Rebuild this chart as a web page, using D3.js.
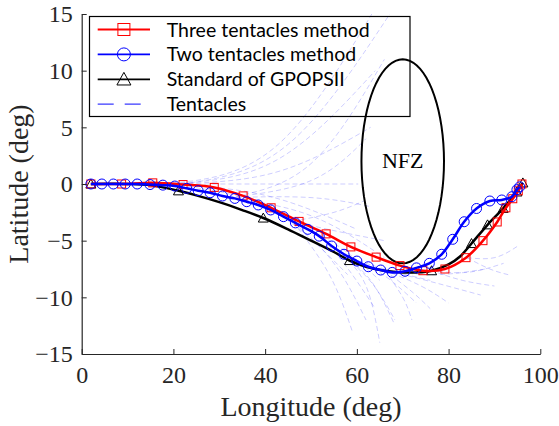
<!DOCTYPE html>
<html>
<head>
<meta charset="utf-8">
<script src="https://cdn.jsdelivr.net/npm/d3@7"></script>
<style>
	body { margin: 0; background: #fff; }
	svg { display: block; }
</style>
</head>
<body>
<div id="chart"></div>
<script>
/* global d3 */

// Trajektorien [Longitude, Latitude] in deg
var threeTentacles = [
	[2, 0], [8.7, 0], [15.5, 0.1], [22.1, -0.05], [28.9, -0.3], [35.2, -1.05], [41.3, -2.1],
	[47.4, -3.3], [53.3, -4.4], [58.7, -5.55], [64.2, -6.45], [69.4, -7.2], [74.4, -7.65],
	[79.2, -7.5], [83.8, -6.5], [87.5, -5.0], [90.6, -3.35], [92.5, -2.1], [94.0, -1.3],
	[95.2, -0.6], [96, 0]
];
var twoTentacles = [
	[2, 0], [4.4, 0], [6.9, 0], [9.5, 0], [12.1, 0], [14.9, -0.05], [17.7, -0.1], [20.3, -0.18],
	[22.9, -0.38], [25.4, -0.59], [28.0, -0.77], [30.7, -1.06], [33.4, -1.27], [36.0, -1.56],
	[38.5, -1.85], [41.2, -2.29], [44.0, -2.88], [46.6, -3.43], [49.3, -4.0], [51.8, -4.6],
	[54.5, -5.47], [57.2, -6.2], [60.0, -6.8], [62.5, -7.3], [65.2, -7.59], [67.7, -7.8],
	[70.5, -7.7], [73.0, -7.4], [75.8, -7.0], [78.5, -6.2], [80.9, -4.88], [83.4, -3.33],
	[86.1, -2.16], [89.0, -1.5], [91.6, -1.41], [93.8, -1.12], [94.9, -0.5], [95.5, -0.25]
];
var gpopsPath = [
	[2, 0], [10, 0], [15, -0.1], [21.1, -0.6], [25, -1.0], [30, -1.6], [35, -2.3], [39.6, -3.0],
	[45, -4.0], [50, -5.0], [55, -6.0], [58.4, -6.75], [62, -7.3], [66, -7.65], [70, -7.8],
	[73, -7.8], [76.3, -7.65], [80, -7.1], [82.5, -6.4], [85, -5.25], [88.5, -3.6],
	[91.9, -2.15], [94.9, -0.7], [96.2, 0.1]
];
var gpopsNodes = [
	[2, 0], [21.1, -0.6], [39.6, -3.0], [58.4, -6.75], [76.3, -7.65], [85, -5.25],
	[88.5, -3.6], [91.9, -2.15], [94.9, -0.7], [96.2, 0.1]
];

// Tentakel: Start, Mitte, Ende
var tentacles = [
	[[18, 0], [42, 3.2], [64, 15.5]],
	[[22, 0], [45, 3.5], [68, 15.5]],
	[[18, 0], [42, 2], [64, 10]],
	[[18, 0], [42, 1], [63, 5]],
	[[18, 0], [40, 0], [60.3, 0]],
	[[18, 0], [40, -1], [60, -4]],
	[[18, 0], [40, -2], [58, -8]],
	[[32, -1.2], [50, 1.8], [66, 11]],
	[[32, -1.2], [50, 0.3], [62, 4]],
	[[32, -1.2], [50, -1.2], [63, -2]],
	[[32, -1.2], [50, -2.8], [66, -6.5]],
	[[32, -1.2], [50, -4], [64, -11]],
	[[46, -3.3], [55, -2.5], [61.5, -1.5]],
	[[46, -3.3], [56, -4.2], [66, -5]],
	[[46, -3.3], [56, -5.5], [65, -8.5]],
	[[46, -3.3], [55, -7], [62, -12]],
	[[46, -3.3], [54, -8], [59, -13]],
	[[57, -6.3], [63, -8.5], [68, -12.2]],
	[[57.4, -6.5], [63.2, -8.7], [68.3, -12]],
	[[57, -6.3], [62, -9], [65, -14]],
	[[57, -6.3], [65, -7.8], [73, -10.5]],
	[[57, -6.3], [66, -7.5], [76, -8.5]],
	[[66, -7.6], [76, -8.6], [87, -9.8]],
	[[66, -7.6], [74, -9], [80, -10.5]],
	[[66, -7.6], [72, -9.5], [76, -11]],
	[[66, -7.6], [77, -8], [88, -7.5]],
	[[66, -7.6], [70, -10], [72, -12]],
	[[76, -7.6], [84, -7.8], [92, -7]],
	[[76, -7.6], [83, -8.5], [90, -9]],
	[[84, -6.5], [90, -6.5], [95, -5.5]],
	[[84, -6.5], [89, -7.5], [93, -8]]
];

// Flugverbotszone
var nfzCenter = [70, 2];
var nfzRadius = 9;

var xTicks = [0, 20, 40, 60, 80, 100];
var yTicks = [-15, -10, -5, 0, 5, 10, 15];
var legendLabels = ['Three tentacles method', 'Two tentacles method', 'Standard of GPOPSII', 'Tentacles'];

var width = 559;
var height = 426;
var axisColor = '#262626';

var x = d3.scaleLinear().domain([0, 100]).range([81.7, 540.3]);
var y = d3.scaleLinear().domain([-15, 15]).range([354, 14]);

var svg = d3.select('#chart').append('svg')
	.attr('width', width).attr('height', height);

svg.append('defs').append('clipPath').attr('id', 'plotclip')
	.append('rect')
	.attr('x', x(0)).attr('y', y(15))
	.attr('width', x(100) - x(0)).attr('height', y(-15) - y(15));

var plot = svg.append('g').attr('clip-path', 'url(#plotclip)');

var line = d3.line()
	.x(function (d) { return x(d[0]); })
	.y(function (d) { return y(d[1]); });
var smooth = d3.line()
	.x(function (d) { return x(d[0]); })
	.y(function (d) { return y(d[1]); })
	.curve(d3.curveCatmullRom.alpha(0.5));
var tentacleLine = d3.line()
	.x(function (d) { return x(d[0]); })
	.y(function (d) { return y(d[1]); })
	.curve(d3.curveNatural);

// Tentakel
plot.append('g').selectAll('path').data(tentacles).enter().append('path')
	.attr('d', tentacleLine)
	.attr('fill', 'none')
	.attr('stroke', '#0000ff')
	.attr('stroke-opacity', 0.22)
	.attr('stroke-width', 0.9)
	.attr('stroke-dasharray', '5,3');

// NFZ
var nfzPts = d3.range(0, 361, 5).map(function (a) {
	var r = a * Math.PI / 180;
	return [nfzCenter[0] + nfzRadius * Math.cos(r), nfzCenter[1] + nfzRadius * Math.sin(r)];
});
plot.append('path')
	.attr('d', line(nfzPts))
	.attr('fill', 'none')
	.attr('stroke', '#000')
	.attr('stroke-width', 2);
svg.append('text')
	.attr('x', x(nfzCenter[0])).attr('y', y(nfzCenter[1]) + 7)
	.attr('text-anchor', 'middle')
	.attr('font-family', 'Liberation Serif, Times New Roman, serif')
	.attr('font-size', 22)
	.attr('fill', '#000')
	.text('NFZ');

// Trajektorien
var series = [
	{data: gpopsPath, nodes: gpopsNodes, color: '#000000', marker: 'triangle'},
	{data: threeTentacles, nodes: threeTentacles, color: '#ff0000', marker: 'square'},
	{data: twoTentacles, nodes: twoTentacles, color: '#0000ff', marker: 'circle'}
];

function drawMarker (g, type, cx, cy, s, color) {
	if (type === 'square') {
		g.append('rect').attr('x', cx - s / 2).attr('y', cy - s / 2)
			.attr('width', s).attr('height', s)
			.attr('fill', 'none').attr('stroke', color).attr('stroke-width', 1);
	} else if (type === 'circle') {
		g.append('circle').attr('cx', cx).attr('cy', cy).attr('r', s / 2)
			.attr('fill', 'none').attr('stroke', color).attr('stroke-width', 1);
	} else {
		var h = s * 0.9;
		g.append('path')
			.attr('d', 'M' + cx + ',' + (cy - h * 0.55) + 'L' + (cx + s / 2) + ',' + (cy + h * 0.45) + 'L' + (cx - s / 2) + ',' + (cy + h * 0.45) + 'Z')
			.attr('fill', 'none').attr('stroke', color).attr('stroke-width', 1);
	}
}

var markerSize = {square: 8, circle: 10, triangle: 10};

series.forEach(function (s) {
	var g = plot.append('g');
	g.append('path')
		.attr('d', smooth(s.data))
		.attr('fill', 'none')
		.attr('stroke', s.color)
		.attr('stroke-width', 2.5);
	s.nodes.forEach(function (d) {
		drawMarker(g, s.marker, x(d[0]), y(d[1]), markerSize[s.marker], s.color);
	});
});

// Achsen
var xAxis = svg.append('g').attr('transform', 'translate(0,' + y(-15) + ')')
	.call(d3.axisBottom(x).tickValues(xTicks).tickSizeInner(-5).tickSizeOuter(0).tickPadding(12));
var yAxis = svg.append('g').attr('transform', 'translate(' + x(0) + ',0)')
	.call(d3.axisLeft(y).tickValues(yTicks).tickSizeInner(-5).tickSizeOuter(0).tickPadding(10));

[xAxis, yAxis].forEach(function (a) {
	a.select('.domain').attr('stroke', axisColor).attr('stroke-width', 1.2);
	a.selectAll('.tick line').attr('stroke', axisColor).attr('stroke-width', 1);
	a.selectAll('.tick text')
		.attr('fill', axisColor)
		.attr('font-family', 'Liberation Serif, Times New Roman, serif')
		.attr('font-size', 24);
});
yAxis.selectAll('.tick text').attr('x', -9);

svg.append('text')
	.attr('x', (x(0) + x(100)) / 2).attr('y', 416)
	.attr('text-anchor', 'middle')
	.attr('font-family', 'Liberation Serif, Times New Roman, serif')
	.attr('font-size', 28)
	.attr('fill', axisColor)
	.text('Longitude (deg)');
svg.append('text')
	.attr('transform', 'translate(28,' + ((y(-15) + y(15)) / 2) + ') rotate(-90)')
	.attr('text-anchor', 'middle')
	.attr('font-family', 'Liberation Serif, Times New Roman, serif')
	.attr('font-size', 28)
	.attr('fill', axisColor)
	.text('Latitude (deg)');

// Legende
var legend = svg.append('g');
legend.append('rect')
	.attr('x', 89.5).attr('y', 16.5).attr('width', 320.5).attr('height', 100)
	.attr('fill', 'none').attr('stroke', '#000').attr('stroke-width', 1.2);

var legendItems = [
	{color: '#ff0000', marker: 'square', size: 12},
	{color: '#0000ff', marker: 'circle', size: 13},
	{color: '#000000', marker: 'triangle', size: 14},
	{color: '#3a3aff', marker: null, dash: '16,11'}
];
legendItems.forEach(function (item, i) {
	var ly = 29.5 + i * 24.9;
	legend.append('line')
		.attr('x1', 97.7).attr('x2', 150).attr('y1', ly).attr('y2', ly)
		.attr('stroke', item.color)
		.attr('stroke-width', item.marker ? 1.8 : 1.2)
		.attr('stroke-dasharray', item.dash || null);
	if (item.marker) {
		drawMarker(legend, item.marker, 123.9, ly, item.size, item.color);
	}
	legend.append('text')
		.attr('x', 166.7).attr('y', ly + 7)
		.attr('font-family', 'Lato, Open Sans, sans-serif')
		.attr('font-size', 19.5)
		.attr('fill', '#000')
		.text(legendLabels[i]);
});
</script>
</body>
</html>
